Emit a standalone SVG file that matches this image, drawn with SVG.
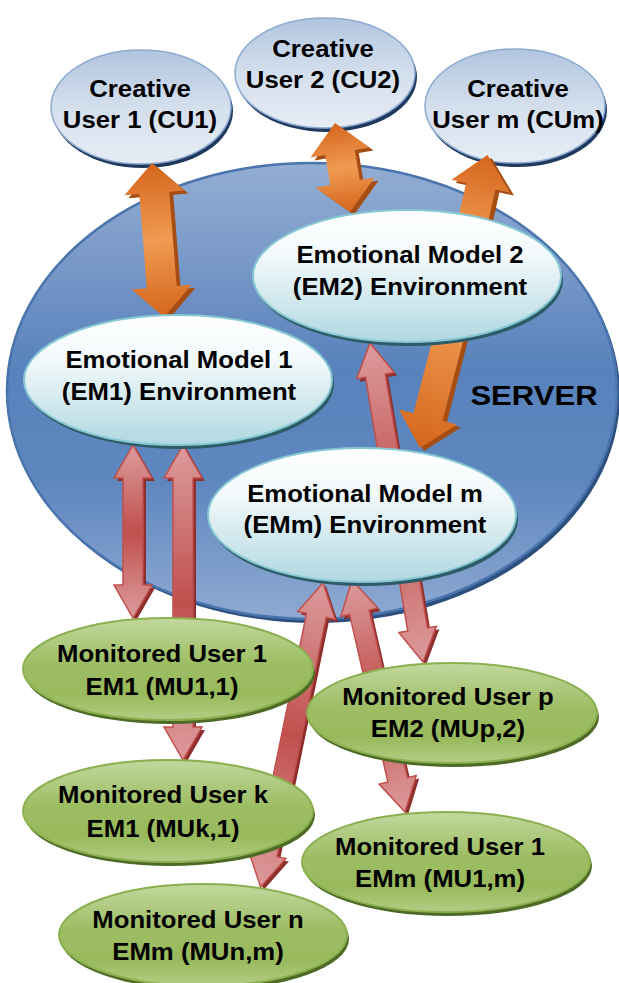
<svg xmlns="http://www.w3.org/2000/svg" width="619" height="983" viewBox="0 0 619 983">
  <defs>
    <style>
      .lbl { font-family: "Liberation Sans", Arial, sans-serif; font-weight: bold; font-size: 24.5px; fill: #000; text-anchor: middle; }
      .srv { font-family: "Liberation Sans", Arial, sans-serif; font-weight: bold; font-size: 28px; fill: #000; text-anchor: middle; }
      .cu { fill: url(#gCU); stroke: #8eaad0; stroke-width: 1.5; }
      .cu-sh { fill: #1f3a5e; }
      .em { fill: url(#gEM); stroke: #86c8d3; stroke-width: 2; }
      .em-sh { fill: #2e5c66; }
      .mu { fill: url(#gMU); stroke: #8bb04f; stroke-width: 2; }
      .mu-sh { fill: #4d6b25; }
      .o2 { fill: url(#gO2); }
      .o1 { fill: url(#gO1); }
      .o-sh { fill: #a54d12; }
      .r2 { fill: url(#gR2); stroke: #c0504d; stroke-width: 1.5; stroke-linejoin: miter; }
      .r-sh { fill: #8e2f2d; }
    </style>
    <linearGradient id="gServer" x1="0" y1="0" x2="0" y2="1">
      <stop offset="0" stop-color="#93aed3"/>
      <stop offset="0.2" stop-color="#7b9ac9"/>
      <stop offset="0.45" stop-color="#5882bc"/>
      <stop offset="0.7" stop-color="#5f87bf"/>
      <stop offset="1" stop-color="#8faad2"/>
    </linearGradient>
    <linearGradient id="gCU" x1="0" y1="0" x2="0" y2="1">
      <stop offset="0" stop-color="#b1c5df"/>
      <stop offset="0.5" stop-color="#d4dfed"/>
      <stop offset="1" stop-color="#e6edf5"/>
    </linearGradient>
    <linearGradient id="gEM" x1="0" y1="0" x2="0" y2="1">
      <stop offset="0" stop-color="#ffffff"/>
      <stop offset="0.35" stop-color="#f2f9fb"/>
      <stop offset="1" stop-color="#b0d8e1"/>
    </linearGradient>
    <linearGradient id="gMU" x1="0" y1="0" x2="0" y2="1">
      <stop offset="0" stop-color="#c2d89e"/>
      <stop offset="0.45" stop-color="#9dbd63"/>
      <stop offset="0.75" stop-color="#98ba5c"/>
      <stop offset="1" stop-color="#b4cd85"/>
    </linearGradient>
    <!-- along-length shading, arrows are drawn in local coordinates along +x -->
    <linearGradient id="gO2" x1="0" y1="0" x2="1" y2="0">
      <stop offset="0" stop-color="#d5661c"/>
      <stop offset="0.5" stop-color="#f09a52"/>
      <stop offset="1" stop-color="#d5661c"/>
    </linearGradient>
    <linearGradient id="gO1" x1="0" y1="0" x2="1" y2="0">
      <stop offset="0" stop-color="#ef9850"/>
      <stop offset="1" stop-color="#d5661c"/>
    </linearGradient>
    <linearGradient id="gR2" x1="0" y1="0" x2="1" y2="0">
      <stop offset="0" stop-color="#dc9a9b"/>
      <stop offset="0.12" stop-color="#d68a8b"/>
      <stop offset="0.5" stop-color="#c0504d"/>
      <stop offset="0.88" stop-color="#d68a8b"/>
      <stop offset="1" stop-color="#dc9a9b"/>
    </linearGradient>
  </defs>

  <!-- server background -->
  <g id="server">
    <ellipse cx="315" cy="395" rx="305" ry="228" fill="#2c4f7e"/>
    <ellipse cx="312" cy="391" rx="305" ry="228" fill="url(#gServer)" stroke="#4a74ad" stroke-width="2.5"/>
    <text class="srv" transform="translate(534 405) scale(1.11 1)">SERVER</text>
  </g>

  <!-- creative users -->
  <g id="cu1">
    <ellipse class="cu-sh" cx="143" cy="111" rx="90" ry="57"/>
    <ellipse class="cu" cx="141" cy="107" rx="90" ry="57"/>
    <text class="lbl" transform="translate(140 97) scale(1.05 1)">Creative</text>
    <text class="lbl" transform="translate(140 128) scale(1.05 1)">User 1 (CU1)</text>
  </g>
  <g id="cu2">
    <ellipse class="cu-sh" cx="327" cy="77" rx="90" ry="55"/>
    <ellipse class="cu" cx="325" cy="73" rx="90" ry="55"/>
    <text class="lbl" transform="translate(323 57) scale(1.05 1)">Creative</text>
    <text class="lbl" transform="translate(323 88) scale(1.05 1)">User 2 (CU2)</text>
  </g>
  <g id="cum">
    <ellipse class="cu-sh" cx="517" cy="110" rx="90" ry="57"/>
    <ellipse class="cu" cx="515" cy="106" rx="90" ry="57"/>
    <text class="lbl" transform="translate(518 97) scale(1.05 1)">Creative</text>
    <text class="lbl" transform="translate(518 128) scale(1.05 1)">User m (CUm)</text>
  </g>

  <!-- connectors -->
  <g id="connectors">
    <!-- CU1 <-> EM1 -->
    <g transform="translate(156 166) rotate(85.54)"><path class="o-sh" d="M0,0 L30,-30 L30,-15 L124.5,-15 L124.5,-30 L154.5,0 L124.5,30 L124.5,15 L30,15 L30,30 Z"/></g>
    <g transform="translate(152 163) rotate(85.54)"><path class="o2" d="M0,0 L30,-30 L30,-15 L124.5,-15 L124.5,-30 L154.5,0 L124.5,30 L124.5,15 L30,15 L30,30 Z"/></g>
    <!-- CU2 <-> EM2 -->
    <g transform="translate(339 126) rotate(80.43)"><path class="o-sh" d="M0,0 L30,-30 L30,-15 L60.3,-15 L60.3,-30 L90.3,0 L60.3,30 L60.3,15 L30,15 L30,30 Z"/></g>
    <g transform="translate(335 123) rotate(80.43)"><path class="o2" d="M0,0 L30,-30 L30,-15 L60.3,-15 L60.3,-30 L90.3,0 L60.3,30 L60.3,15 L30,15 L30,30 Z"/></g>
    <!-- EM2 -> CUm -->
    <g transform="translate(474 238) rotate(-77.62)"><path class="o-sh" d="M0,-15 L50,-15 L50,-30 L82,0 L50,30 L50,15 L0,15 Z"/></g>
    <g transform="translate(470 235) rotate(-77.62)"><path class="o1" d="M0,-15 L50,-15 L50,-30 L82,0 L50,30 L50,15 L0,15 Z"/></g>
    <!-- EM2 -> EMm -->
    <g transform="translate(457 323) rotate(104.46)"><path class="o-sh" d="M0,-15 L100.2,-15 L100.2,-30 L132.2,0 L100.2,30 L100.2,15 L0,15 Z"/></g>
    <g transform="translate(453 320) rotate(104.46)"><path class="o1" d="M0,-15 L100.2,-15 L100.2,-30 L132.2,0 L100.2,30 L100.2,15 L0,15 Z"/></g>

    <!-- EM1 <-> MU1,1 -->
    <g transform="translate(136 448) rotate(90)"><path class="r-sh" d="M0,0 L33,-19 L33,-10 L140,-10 L140,-19 L173,0 L140,19 L140,10 L33,10 L33,19 Z"/></g>
    <g transform="translate(133 445) rotate(90)"><path class="r2" d="M0,0 L33,-19 L33,-10 L140,-10 L140,-19 L173,0 L140,19 L140,10 L33,10 L33,19 Z"/></g>
    <!-- EM1 <-> MUk,1 -->
    <g transform="translate(186 448) rotate(90)"><path class="r-sh" d="M0,0 L33,-19 L33,-10 L282,-10 L282,-19 L315,0 L282,19 L282,10 L33,10 L33,19 Z"/></g>
    <g transform="translate(183 445) rotate(90)"><path class="r2" d="M0,0 L33,-19 L33,-10 L282,-10 L282,-19 L315,0 L282,19 L282,10 L33,10 L33,19 Z"/></g>
    <!-- EMm <-> MUn,m -->
    <g transform="translate(326 586) rotate(101.6)"><path class="r-sh" d="M0,0 L33,-19 L33,-10 L277.4,-10 L277.4,-19 L310.4,0 L277.4,19 L277.4,10 L33,10 L33,19 Z"/></g>
    <g transform="translate(323 583) rotate(101.6)"><path class="r2" d="M0,0 L33,-19 L33,-10 L277.4,-10 L277.4,-19 L310.4,0 L277.4,19 L277.4,10 L33,10 L33,19 Z"/></g>
    <!-- EMm <-> MU1,m -->
    <g transform="translate(355 583) rotate(77.13)"><path class="r-sh" d="M0,0 L33,-19 L33,-10 L205,-10 L205,-19 L238,0 L205,19 L205,10 L33,10 L33,19 Z"/></g>
    <g transform="translate(352 580) rotate(77.13)"><path class="r2" d="M0,0 L33,-19 L33,-10 L205,-10 L205,-19 L238,0 L205,19 L205,10 L33,10 L33,19 Z"/></g>
    <!-- EM2 <-> MUp,2 -->
    <g transform="translate(373 346) rotate(80.57)"><path class="r-sh" d="M0,0 L33,-19 L33,-10 L290.4,-10 L290.4,-19 L323.4,0 L290.4,19 L290.4,10 L33,10 L33,19 Z"/></g>
    <g transform="translate(370 343) rotate(80.57)"><path class="r2" d="M0,0 L33,-19 L33,-10 L290.4,-10 L290.4,-19 L323.4,0 L290.4,19 L290.4,10 L33,10 L33,19 Z"/></g>
  </g>

  <!-- emotional model environments -->
  <g id="em1">
    <ellipse class="em-sh" cx="180" cy="384" rx="154" ry="65"/>
    <ellipse class="em" cx="178" cy="380" rx="154" ry="65"/>
    <text class="lbl" transform="translate(179 368) scale(1.05 1)">Emotional Model 1</text>
    <text class="lbl" transform="translate(179 400) scale(1.05 1)">(EM1) Environment</text>
  </g>
  <g id="em2">
    <ellipse class="em-sh" cx="409" cy="280" rx="154" ry="66"/>
    <ellipse class="em" cx="407" cy="276" rx="154" ry="66"/>
    <text class="lbl" transform="translate(410 263) scale(1.05 1)">Emotional Model 2</text>
    <text class="lbl" transform="translate(410 295) scale(1.05 1)">(EM2) Environment</text>
  </g>
  <g id="emm">
    <ellipse class="em-sh" cx="364" cy="519" rx="154" ry="67"/>
    <ellipse class="em" cx="362" cy="515" rx="154" ry="67"/>
    <text class="lbl" transform="translate(365 502) scale(1.05 1)">Emotional Model m</text>
    <text class="lbl" transform="translate(365 533) scale(1.05 1)">(EMm) Environment</text>
  </g>

  <!-- monitored users -->
  <g id="mu11">
    <ellipse class="mu-sh" cx="170" cy="673" rx="145" ry="51"/>
    <ellipse class="mu" cx="168" cy="669" rx="145" ry="51"/>
    <text class="lbl" transform="translate(162 662) scale(1.05 1)">Monitored User 1</text>
    <text class="lbl" transform="translate(162 695) scale(1.05 1)">EM1 (MU1,1)</text>
  </g>
  <g id="mup2">
    <ellipse class="mu-sh" cx="454" cy="717" rx="145" ry="50"/>
    <ellipse class="mu" cx="452" cy="713" rx="145" ry="50"/>
    <text class="lbl" transform="translate(448 705) scale(1.05 1)">Monitored User p</text>
    <text class="lbl" transform="translate(448 737) scale(1.05 1)">EM2 (MUp,2)</text>
  </g>
  <g id="muk1">
    <ellipse class="mu-sh" cx="170" cy="815" rx="145" ry="51"/>
    <ellipse class="mu" cx="168" cy="811" rx="145" ry="51"/>
    <text class="lbl" transform="translate(163 803) scale(1.05 1)">Monitored User k</text>
    <text class="lbl" transform="translate(163 837) scale(1.05 1)">EM1 (MUk,1)</text>
  </g>
  <g id="mu1m">
    <ellipse class="mu-sh" cx="448" cy="866" rx="144" ry="50"/>
    <ellipse class="mu" cx="446" cy="862" rx="144" ry="50"/>
    <text class="lbl" transform="translate(440 855) scale(1.05 1)">Monitored User 1</text>
    <text class="lbl" transform="translate(440 887) scale(1.05 1)">EMm (MU1,m)</text>
  </g>
  <g id="munm">
    <ellipse class="mu-sh" cx="205" cy="939" rx="144" ry="51"/>
    <ellipse class="mu" cx="203" cy="935" rx="144" ry="51"/>
    <text class="lbl" transform="translate(198 928) scale(1.05 1)">Monitored User n</text>
    <text class="lbl" transform="translate(198 960) scale(1.05 1)">EMm (MUn,m)</text>
  </g>
</svg>
